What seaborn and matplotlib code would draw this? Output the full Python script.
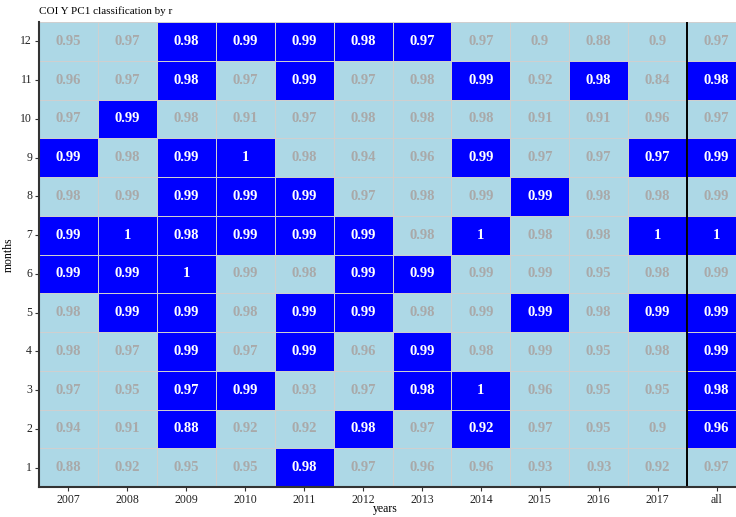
import numpy as np
import pandas as pd
import seaborn as sns
import matplotlib.pyplot as plt
from matplotlib.colors import ListedColormap

years = ["2007", "2008", "2009", "2010", "2011", "2012", "2013",
         "2014", "2015", "2016", "2017", "all"]
months = [12, 11, 10, 9, 8, 7, 6, 5, 4, 3, 2, 1]

# r values, rows from month 12 down to month 1
r_values = [
    [0.95, 0.97, 0.98, 0.99, 0.99, 0.98, 0.97, 0.97, 0.90, 0.88, 0.90, 0.97],
    [0.96, 0.97, 0.98, 0.97, 0.99, 0.97, 0.98, 0.99, 0.92, 0.98, 0.84, 0.98],
    [0.97, 0.99, 0.98, 0.91, 0.97, 0.98, 0.98, 0.98, 0.91, 0.91, 0.96, 0.97],
    [0.99, 0.98, 0.99, 1.00, 0.98, 0.94, 0.96, 0.99, 0.97, 0.97, 0.97, 0.99],
    [0.98, 0.99, 0.99, 0.99, 0.99, 0.97, 0.98, 0.99, 0.99, 0.98, 0.98, 0.99],
    [0.99, 1.00, 0.98, 0.99, 0.99, 0.99, 0.98, 1.00, 0.98, 0.98, 1.00, 1.00],
    [0.99, 0.99, 1.00, 0.99, 0.98, 0.99, 0.99, 0.99, 0.99, 0.95, 0.98, 0.99],
    [0.98, 0.99, 0.99, 0.98, 0.99, 0.99, 0.98, 0.99, 0.99, 0.98, 0.99, 0.99],
    [0.98, 0.97, 0.99, 0.97, 0.99, 0.96, 0.99, 0.98, 0.99, 0.95, 0.98, 0.99],
    [0.97, 0.95, 0.97, 0.99, 0.93, 0.97, 0.98, 1.00, 0.96, 0.95, 0.95, 0.98],
    [0.94, 0.91, 0.88, 0.92, 0.92, 0.98, 0.97, 0.92, 0.97, 0.95, 0.90, 0.96],
    [0.88, 0.92, 0.95, 0.95, 0.98, 0.97, 0.96, 0.96, 0.93, 0.93, 0.92, 0.97],
]

# classification: 1 = selected (blue), 0 = not (light blue)
r_class = [
    [0, 0, 1, 1, 1, 1, 1, 0, 0, 0, 0, 0],
    [0, 0, 1, 0, 1, 0, 0, 1, 0, 1, 0, 1],
    [0, 1, 0, 0, 0, 0, 0, 0, 0, 0, 0, 0],
    [1, 0, 1, 1, 0, 0, 0, 1, 0, 0, 1, 1],
    [0, 0, 1, 1, 1, 0, 0, 0, 1, 0, 0, 0],
    [1, 1, 1, 1, 1, 1, 0, 1, 0, 0, 1, 1],
    [1, 1, 1, 0, 0, 1, 1, 0, 0, 0, 0, 0],
    [0, 1, 1, 0, 1, 1, 0, 0, 1, 0, 1, 1],
    [0, 0, 1, 0, 1, 0, 1, 0, 0, 0, 0, 1],
    [0, 0, 1, 1, 0, 0, 1, 1, 0, 0, 0, 1],
    [0, 0, 1, 0, 0, 1, 0, 1, 0, 0, 0, 1],
    [0, 0, 0, 0, 1, 0, 0, 0, 0, 0, 0, 0],
]

cls = pd.DataFrame(r_class, index=months, columns=years)
labels = np.array([[f"{v:g}" for v in row] for row in r_values])

plt.rcParams['font.family'] = ['Liberation Serif', 'DejaVu Serif']

fig = plt.figure(figsize=(7.36, 5.17), dpi=100)
ax = fig.add_axes([39 / 736, 1 - 487 / 517, 707 / 736, 465 / 517])

sns.heatmap(cls, ax=ax, cmap=ListedColormap(["lightblue", "blue"]),
            vmin=0, vmax=1, cbar=False, annot=labels, fmt="",
            linewidths=0.6, linecolor="#cfcfcf",
            annot_kws={"fontsize": 10.5, "fontweight": "bold"})

# text colour by class
flat = cls.values.flatten()
for t, c in zip(ax.texts, flat):
    t.set_color("white" if c == 1 else "darkgray")

ax.axvline(11, color="black", lw=1.4)

for side in ["left", "bottom"]:
    ax.spines[side].set_visible(True)
    ax.spines[side].set_color("#333333")
    ax.spines[side].set_linewidth(1.5)

ax.set_yticklabels(months, rotation=0)
ax.tick_params(axis="both", labelsize=8.5, length=3, width=0.8,
               color="#333333", labelcolor="#222222", pad=2)
ax.set_xlabel("years", fontsize=8.5)
ax.xaxis.set_label_coords(0.49, -0.034)
ax.set_ylabel("months", fontsize=8.5, labelpad=4)
ax.set_title("COI Y PC1 classification by r", loc="left", fontsize=8, pad=6)

plt.savefig("out.png", dpi=100)
